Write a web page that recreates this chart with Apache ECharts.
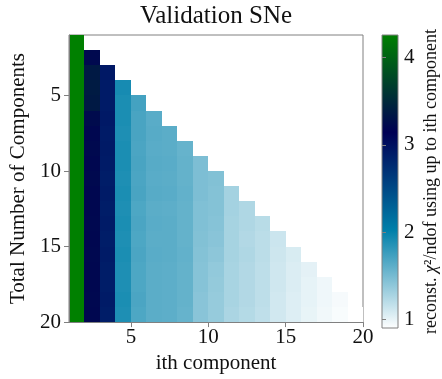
<!DOCTYPE html>
<html><head><meta charset="utf-8">
<script src="https://cdn.jsdelivr.net/npm/echarts@6/dist/echarts.min.js"></script>
<style>html,body{margin:0;padding:0;background:#fff}#c{width:442px;height:379px}</style>
</head><body><div id="c"></div>
<script>
// Row labels: total number of components; column labels: ith component
const totalComponents = [1,2,3,4,5,6,7,8,9,10,11,12,13,14,15,16,17,18,19];
const ithComponent    = [1,2,3,4,5,6,7,8,9,10,11,12,13,14,15,16,17,18,19];
const xTickValues = [5,10,15,20];
const yTickValues = [5,10,15,20];
const cbarTickValues = [1,2,3,4];
// reconst. chi2/ndof, row N holds components 1..N
const chi2Rows = [
  [4.26],
  [4.26,3.22],
  [4.26,3.36,2.93],
  [4.26,3.38,2.90,1.92],
  [4.26,3.36,2.90,1.90,1.72],
  [4.26,3.24,2.92,1.90,1.70,1.63],
  [4.26,3.20,2.90,1.89,1.70,1.64,1.62],
  [4.26,3.22,2.91,1.90,1.69,1.63,1.62,1.57],
  [4.26,3.20,2.90,1.90,1.70,1.64,1.63,1.58,1.47],
  [4.26,3.22,2.89,1.89,1.69,1.63,1.62,1.58,1.47,1.45],
  [4.26,3.20,2.90,1.90,1.70,1.64,1.63,1.59,1.47,1.44,1.30],
  [4.26,3.20,2.89,1.89,1.68,1.62,1.61,1.58,1.46,1.44,1.30,1.25],
  [4.26,3.21,2.90,1.90,1.69,1.63,1.62,1.58,1.46,1.43,1.29,1.25,1.21],
  [4.26,3.20,2.89,1.89,1.68,1.62,1.62,1.58,1.45,1.42,1.29,1.24,1.20,1.13],
  [4.26,3.21,2.90,1.90,1.69,1.63,1.62,1.59,1.44,1.40,1.29,1.25,1.20,1.12,1.07],
  [4.26,3.20,2.89,1.89,1.68,1.62,1.61,1.58,1.43,1.38,1.28,1.24,1.19,1.11,1.06,1.02],
  [4.26,3.20,2.89,1.89,1.68,1.62,1.61,1.58,1.43,1.37,1.28,1.24,1.19,1.11,1.06,1.01,0.97],
  [4.26,3.21,2.90,1.90,1.69,1.62,1.61,1.58,1.42,1.36,1.28,1.24,1.19,1.10,1.05,1.01,0.97,0.94],
  [4.26,3.20,2.89,1.89,1.68,1.62,1.61,1.57,1.42,1.36,1.27,1.23,1.18,1.10,1.05,1.00,0.96,0.93,0.90]
];
// ocean_r colormap stops (low -> high)
const oceanR = ['#ffffff','#0080aa','#000055','#008000'];

const cells = [];
const allVals = [];
chi2Rows.forEach((row, r) => row.forEach((v, c) => {
  cells.push([ithComponent[c], totalComponents[r], v]);
  allVals.push(v);
}));
const vmin = Math.min(...allVals), vmax = Math.max(...allVals);

const font = 'Liberation Serif';
const axisGray = '#808080';
const txt = '#111';

const chart = echarts.init(document.getElementById('c'), null, {renderer: 'canvas'});
chart.setOption({
  animation: false,
  title: {
    text: 'Validation SNe', left: 216, top: 4, padding: 0, textAlign: 'center',
    textStyle: {fontFamily: font, fontSize: 25, fontWeight: 'normal', color: txt}
  },
  grid: [
    {left: 69, top: 35, width: 294, height: 293, show: true, borderColor: axisGray, borderWidth: 1, backgroundColor: 'transparent'},
    {left: 382, top: 35, width: 16, height: 293}
  ],
  xAxis: [
    {
      gridIndex: 0, type: 'value', min: 1, max: 20, z: 5,
      axisLine: {show: true, lineStyle: {color: axisGray, width: 1}},
      axisTick: {show: true, length: 5, lineStyle: {color: axisGray}, customValues: xTickValues},
      axisLabel: {customValues: xTickValues, fontFamily: font, fontSize: 21, color: txt, margin: 5},
      splitLine: {show: false},
      name: 'ith component', nameLocation: 'middle', nameGap: 29,
      nameTextStyle: {fontFamily: font, fontSize: 21, color: txt}
    },
    {gridIndex: 1, type: 'value', min: 0, max: 1, show: false}
  ],
  yAxis: [
    {
      gridIndex: 0, type: 'value', min: 1, max: 20, inverse: true, z: 5,
      axisLine: {show: true, lineStyle: {color: axisGray, width: 1}},
      axisTick: {show: true, length: 5, lineStyle: {color: axisGray}, customValues: yTickValues},
      axisLabel: {customValues: yTickValues, fontFamily: font, fontSize: 21, color: txt, margin: 8},
      splitLine: {show: false},
      name: 'Total Number of Components', nameLocation: 'middle', nameGap: 27,
      nameTextStyle: {fontFamily: font, fontSize: 21, color: txt}
    },
    {
      gridIndex: 1, type: 'value', min: vmin, max: vmax, position: 'right', z: 5,
      axisLine: {show: false},
      axisTick: {show: true, length: 4, lineStyle: {color: axisGray}, customValues: cbarTickValues},
      axisLabel: {customValues: cbarTickValues, fontFamily: font, fontSize: 21, color: txt, margin: 6},
      splitLine: {show: false},
      name: '{a|reconst. }{i|χ}{a|²/ndof using up to ith component}',
      nameLocation: 'middle', nameGap: 24, nameRotate: 90,
      nameTextStyle: {
        rich: {
          a: {fontFamily: font, fontSize: 18, color: txt},
          i: {fontFamily: font, fontSize: 18, fontStyle: 'italic', color: txt}
        }
      }
    }
  ],
  visualMap: {
    show: false, type: 'continuous', min: vmin, max: vmax, dimension: 2, seriesIndex: 0,
    inRange: {color: oceanR}
  },
  series: [
    {
      type: 'custom', xAxisIndex: 0, yAxisIndex: 0, data: cells, encode: {x: 0, y: 1},
      renderItem: function (params, api) {
        const c = api.value(0), r = api.value(1);
        const p0 = api.coord([c, r]);
        const p1 = api.coord([c + 1, r + 1]);
        const x0 = Math.round(Math.min(p0[0], p1[0])), x1 = Math.round(Math.max(p0[0], p1[0]));
        const y0 = Math.round(Math.min(p0[1], p1[1])), y1 = Math.round(Math.max(p0[1], p1[1]));
        return {
          type: 'rect',
          shape: {x: x0, y: y0, width: x1 - x0, height: y1 - y0},
          style: {fill: api.visual('color')}
        };
      }
    },
    {
      type: 'custom', xAxisIndex: 1, yAxisIndex: 1, data: [[0, vmin, vmax]],
      renderItem: function (params, api) {
        const p0 = api.coord([0, api.value(2)]);
        const p1 = api.coord([1, api.value(1)]);
        const stops = oceanR.slice().reverse().map((col, k, arr) => ({offset: k / (arr.length - 1), color: col}));
        return {
          type: 'rect',
          shape: {x: p0[0], y: p0[1], width: p1[0] - p0[0], height: p1[1] - p0[1]},
          style: {fill: new echarts.graphic.LinearGradient(0, 0, 0, 1, stops), stroke: axisGray, lineWidth: 1}
        };
      }
    }
  ]
});
</script>
</body></html>
